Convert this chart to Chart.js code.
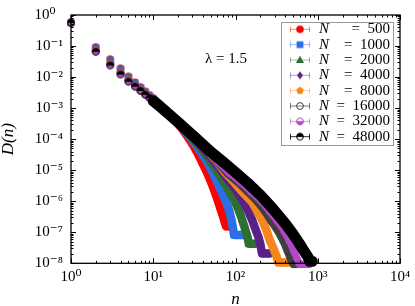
<!DOCTYPE html>
<html><head><meta charset="utf-8">
<script src="https://cdn.jsdelivr.net/npm/chart.js@4/dist/chart.umd.min.js"></script>
<style>html,body{margin:0;padding:0;background:#fff;}canvas{display:block;}</style>
</head><body>
<canvas id="c" width="415" height="306"></canvas>
<script>
// ---------- data ----------
const seriesLabels = ['500','1000','2000','4000','8000','16000','32000','48000'];
const xTickLabels = ['10⁰','10¹','10²','10³','10⁴'];
const yTickLabels = ['10⁰','10⁻¹','10⁻²','10⁻³','10⁻⁴','10⁻⁵','10⁻⁶','10⁻⁷','10⁻⁸'];
const lambdaText = 'λ = 1.5';

const n500 = [1,2,3,4,5,6,7,8,9,10,12,14,16,18,20,25,30,35,40,45,50,55,60,65,70,74,77,80,83,86];
const d500 = [0.58,0.0933,0.0378,0.0192,0.0105,0.0068,0.00478,0.00347,0.00263,0.00203,0.00127,0.000838,5.70e-4,4.27e-4,3.19e-4,1.44e-4,6.96e-5,3.37e-5,1.63e-5,8.5e-6,4.43e-6,2.30e-6,1.20e-6,6.24e-7,3.49e-7,2.10e-7,1.57e-7,1.57e-7,1.57e-7,1.57e-7];

const n1000 = [1,2,3,4,5,6,7,8,9,10,12,14,16,18,20,25,30,35,40,45,50,55,60,65,70,75,80,85,90,93,96,102,108,115,122];
const d1000 = [0.575,0.0884,0.0352,0.0179,0.0099,0.00649,0.00457,0.00334,0.00255,0.00197,0.00125,0.000833,5.78e-4,4.33e-4,3.29e-4,1.66e-4,8.97e-5,5.21e-5,3.13e-5,1.89e-5,1.14e-5,6.84e-6,4.11e-6,2.57e-6,1.66e-6,1.11e-6,7.22e-7,4.34e-7,2.26e-7,1.36e-7,8.19e-8,8.19e-8,8.19e-8,8.19e-8,8.19e-8];

const n2000 = [1,2,3,4,5,6,7,8,9,10,12,14,16,18,20,25,30,35,40,45,50,60,70,80,90,100,110,120,130,140,145,152,160,168,176];
const d2000 = [0.57,0.0838,0.0328,0.0167,0.00933,0.00617,0.00438,0.00321,0.00247,0.00192,0.00123,0.000828,5.87e-4,4.42e-4,3.38e-4,1.81e-4,1.04e-4,6.47e-5,4.19e-5,2.81e-5,1.89e-5,9.14e-6,4.75e-6,2.66e-6,1.55e-6,8.97e-7,5.02e-7,2.61e-7,1.36e-7,7.08e-8,4.27e-8,4.27e-8,4.27e-8,4.27e-8,4.27e-8];

const n4000 = [1,2,3,4,5,6,7,8,9,10,12,14,16,18,20,25,30,36,45,55,70,84,100,123,140,158,175,190,200,210,220,235,248,260];
const d4000 = [0.57,0.0793,0.0305,0.01556,0.00879,0.00587,0.00419,0.00309,0.00239,0.00187,0.00121,0.000824,5.91e-4,4.46e-4,3.43e-4,1.92e-4,1.16e-4,7.22e-5,3.76e-5,1.89e-5,8.5e-6,4.43e-6,2.48e-6,1.04e-6,5.40e-7,2.61e-7,1.26e-7,7.08e-8,4.27e-8,2.07e-8,2.07e-8,2.07e-8,2.07e-8,2.07e-8];

const n8000 = [1,2,3,4,5,6,7,8,9,10,12,14,16,18,20,25,30,37,45,58,75,96,120,158,185,214,240,260,290,313,330,360,390,420,450];
const d8000 = [0.565,0.0751,0.0284,0.0145,0.00828,0.0056,0.00401,0.00298,0.00231,0.00182,0.00119,0.000819,5.91e-4,4.49e-4,3.46e-4,1.99e-4,1.24e-4,7.48e-5,4.67e-5,2.03e-5,8.5e-6,4.11e-6,2.06e-6,9.64e-7,4.67e-7,2.26e-7,1.09e-7,5.70e-8,2.97e-8,1.79e-8,1.07e-8,1.07e-8,1.07e-8,1.07e-8,1.07e-8];

const n16000 = [1,2,3,4,5,6,7,8,9,10,12,14,16,18,20,25,30,38,50,61,80,107,140,186,230,274,330,383,430,477,510,540];
const d16000 = [0.565,0.0717,0.0268,0.01362,0.00786,0.00536,0.00386,0.00288,0.00225,0.00177,0.00118,0.000815,5.96e-4,4.52e-4,3.48e-4,2.02e-4,1.27e-4,7.48e-5,3.49e-5,1.75e-5,7.91e-6,4.11e-6,2.06e-6,9.64e-7,4.67e-7,2.26e-7,1.09e-7,5.30e-8,2.57e-8,1.24e-8,9.3e-9,9.3e-9];

const n32000 = [1,2,3,4,5,6,7,8,9,10,12,14,16,18,20,25,30,39,50,62,85,116,155,208,260,324,390,451,510,564,600,660,720,780];
const d32000 = [0.56,0.0681,0.0251,0.01276,0.00744,0.00512,0.00371,0.00278,0.00218,0.00173,0.00116,0.000811,5.96e-4,4.52e-4,3.51e-4,2.04e-4,1.30e-4,7.48e-5,3.76e-5,1.75e-5,7.91e-6,4.11e-6,1.99e-6,9.64e-7,4.67e-7,2.26e-7,1.09e-7,5.30e-8,2.57e-8,1.34e-8,9.3e-9,9.3e-9,9.3e-9,9.3e-9];

const n48000 = [1,2,3,4,5,6,7,8,9,10,12,14,16,18,20,23,25,30,35,50,71,100,141,200,283,400,500,600,700,760,800,830,860];
const d48000 = [0.56,0.0650,0.0235,0.0120,0.00706,0.00491,0.00357,0.00269,0.00212,0.00169,0.00114,0.000807,5.96e-4,4.52e-4,3.53e-4,2.53e-4,2.07e-4,1.34e-4,9.3e-5,3.9e-5,1.82e-5,8.5e-6,3.83e-6,1.60e-6,5.81e-7,1.96e-7,8.82e-8,4.27e-8,2.22e-8,1.6e-8,1.16e-8,1.16e-8,1.16e-8];

const allN = [n500,n1000,n2000,n4000,n8000,n16000,n32000,n48000];
const allD = [d500,d1000,d2000,d4000,d8000,d16000,d32000,d48000];

// ---------- style ----------
const colors = ['#ff0000','#2e6fe6','#2f7032','#5a2188','#f7861c','#404040','#b347c6','#000000'];
const legendLine = ['rgba(255,0,0,0.45)','rgba(46,111,230,0.45)','rgba(47,112,50,0.45)','rgba(90,33,136,0.45)','rgba(247,134,28,0.45)','rgba(64,64,64,0.7)','rgba(179,71,198,0.55)','rgba(0,0,0,0.8)'];
const shapes = ['circle','square','triangle','diamond','pentagon','open','halfBottom','halfTop'];
const bandWidth = [8.5,8.5,8.5,8.5,8.5,8,7,11];
const SERIF = '"Liberation Serif","DejaVu Serif",serif';

function mk(shape, color) {
  const c = document.createElement('canvas'); c.width = 10; c.height = 10;
  const g = c.getContext('2d'); g.translate(5,5);
  g.fillStyle = color; g.strokeStyle = color; g.lineWidth = 1;
  g.beginPath();
  if (shape === 'circle') { g.arc(0,0,3.8,0,2*Math.PI); g.fill(); }
  else if (shape === 'square') { g.fillRect(-3.4,-3.4,6.8,6.8); }
  else if (shape === 'triangle') { g.moveTo(0,-4.3); g.lineTo(4.1,2.9); g.lineTo(-4.1,2.9); g.closePath(); g.fill(); }
  else if (shape === 'diamond') { g.moveTo(0,-4); g.lineTo(3,0); g.lineTo(0,4); g.lineTo(-3,0); g.closePath(); g.fill(); }
  else if (shape === 'pentagon') { for (let k=0;k<5;k++){const a=-Math.PI/2+k*2*Math.PI/5; const px=3.9*Math.cos(a), py=3.9*Math.sin(a); k?g.lineTo(px,py):g.moveTo(px,py);} g.closePath(); g.fill(); }
  else if (shape === 'open') { g.arc(0,0,3.4,0,2*Math.PI); g.stroke(); }
  else if (shape === 'halfBottom') { g.arc(0,0,3.4,0,Math.PI); g.closePath(); g.fill(); g.beginPath(); g.arc(0,0,3.4,0,2*Math.PI); g.stroke(); }
  else if (shape === 'halfTop') { g.arc(0,0,3.4,Math.PI,2*Math.PI); g.closePath(); g.fill(); g.beginPath(); g.arc(0,0,3.4,0,2*Math.PI); g.stroke(); }
  return c;
}
const markers = shapes.map((s,i)=>mk(s, colors[i]));

const datasets = seriesLabels.map((lab,i)=>({
  label: 'N = ' + lab,
  data: allN[i].map((n,j)=>({x:n, y:allD[i][j]})),
  showLine: true,
  borderColor: colors[i],
  backgroundColor: colors[i],
  borderWidth: bandWidth[i],
  borderCapStyle: 'round',
  borderJoinStyle: 'round',
  segment: { borderColor: ctx => (ctx.p0.parsed.x < 10 ? 'rgba(0,0,0,0)' : colors[i]) },
  pointStyle: markers[i],
  pointRadius: 4,
  order: 7 - i,
  clip: 5
}));

function isPow10(v){ const l = Math.log10(v); return Math.abs(l - Math.round(l)) < 1e-9; }

const deco = {
  id: 'deco',
  afterDraw(chart) {
    const ctx = chart.ctx; const {left,right,top,bottom} = chart.chartArea;
    const xs = chart.scales.x, ys = chart.scales.y;
    ctx.save();
    ctx.strokeStyle = '#000'; ctx.lineWidth = 1;
    ctx.beginPath();
    xs.ticks.forEach(t => { const p = Math.round(xs.getPixelForValue(t.value))+0.5; const L = isPow10(t.value)?5:2.5;
      ctx.moveTo(p,bottom); ctx.lineTo(p,bottom-L); ctx.moveTo(p,top); ctx.lineTo(p,top+L); });
    ys.ticks.forEach(t => { const p = Math.round(ys.getPixelForValue(t.value))+0.5; const L = isPow10(t.value)?5:2.5;
      ctx.moveTo(left,p); ctx.lineTo(left+L,p); ctx.moveTo(right,p); ctx.lineTo(right-L,p); });
    ctx.stroke();
    ctx.lineWidth = 1.3;
    ctx.strokeRect(left, top, right-left, bottom-top);
    // lambda
    ctx.fillStyle = '#000'; ctx.font = '15px ' + SERIF; ctx.textBaseline = 'middle'; ctx.textAlign = 'left';
    ctx.fillText(lambdaText, 205, 59);
    // legend
    const bx0 = 281, by0 = 22, bx1 = 393, by1 = 145;
    ctx.fillStyle = '#fff'; ctx.fillRect(bx0, by0, bx1-bx0, by1-by0);
    ctx.strokeStyle = '#9a9a9a'; ctx.lineWidth = 1; ctx.strokeRect(bx0+0.5, by0+0.5, bx1-bx0, by1-by0);
    seriesLabels.forEach((lab,i)=>{
      const cy = 29.3 + i*15.34;
      ctx.strokeStyle = legendLine[i]; ctx.lineWidth = 1;
      ctx.beginPath(); ctx.moveTo(290, cy); ctx.lineTo(310, cy);
      ctx.moveTo(290.5, cy-3); ctx.lineTo(290.5, cy+3); ctx.moveTo(309.5, cy-3); ctx.lineTo(309.5, cy+3); ctx.stroke();
      const m = markers[i]; ctx.drawImage(m, 300 - m.width/2, cy - m.height/2);
      ctx.fillStyle = '#000';
      ctx.font = 'italic 15px ' + SERIF; ctx.textAlign = 'left'; ctx.fillText('N', 319, cy);
      ctx.font = '15px ' + SERIF; ctx.textAlign = 'right'; ctx.fillText('=\u2002' + lab, 390, cy);
    });
    ctx.restore();
  }
};

new Chart(document.getElementById('c'), {
  type: 'scatter',
  data: { datasets },
  options: {
    responsive: false, animation: false, devicePixelRatio: 1,
    layout: { padding: { left: 0, right: 11.5, top: 9, bottom: 0 } },
    plugins: { legend: { display: false }, tooltip: { enabled: false } },
    scales: {
      x: {
        type: 'logarithmic', min: 1, max: 1e4,
        grid: { display: false, drawTicks: false }, border: { display: false },
        afterBuildTicks: s => { const t=[]; for (let e=0;e<4;e++) for (let m=1;m<10;m++) t.push({value:m*Math.pow(10,e)}); t.push({value:1e4}); s.ticks = t; },
        afterFit: s => { s.height = 42.7; s.paddingLeft = 0; s.paddingRight = 0; },
        ticks: { autoSkip: false, maxRotation: 0, padding: 5, color: '#000', font: { family: SERIF, size: 15 },
          callback: v => isPow10(v) ? xTickLabels[Math.round(Math.log10(v))] : '' },
        title: { display: true, text: 'n', color: '#000', font: { family: SERIF, size: 17, style: 'italic', lineHeight: 1 }, padding: { top: 0, bottom: -2.5 } }
      },
      y: {
        type: 'logarithmic', min: 1e-8, max: 1,
        grid: { display: false, drawTicks: false }, border: { display: false },
        afterBuildTicks: s => { const t=[]; for (let e=-8;e<0;e++) for (let m=1;m<10;m++) t.push({value:m*Math.pow(10,e)}); t.push({value:1}); s.ticks = t; },
        afterFit: s => { s.width = 71; s.paddingTop = 0; s.paddingBottom = 0; },
        ticks: { autoSkip: false, padding: 8, color: '#000', font: { family: SERIF, size: 15 },
          callback: v => isPow10(v) ? (Math.round(Math.log10(v)) === 0 ? yTickLabels[0] + '\u2002' : yTickLabels[-Math.round(Math.log10(v))]) : '' },
        title: { display: true, text: 'D(n)', color: '#000', font: { family: SERIF, size: 17, style: 'italic', lineHeight: 1 }, padding: { top: 0, bottom: 0 } }
      }
    }
  },
  plugins: [deco]
});
</script>
</body></html>
